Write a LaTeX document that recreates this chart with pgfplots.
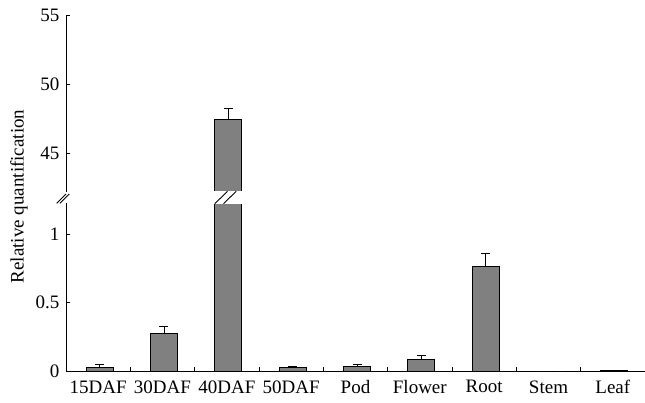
\documentclass[border=0pt]{standalone}
\usepackage{fontspec}
\setmainfont{Liberation Serif}
\usepackage{pgfplots}
\usepackage{pgfplotstable}
\pgfplotsset{compat=1.18}
\definecolor{barcol}{HTML}{808080}
\pgfplotstableread{
x y err
0 0.027 0.024
1 0.272 0.056
2 47.45 0.79
3 0.029 0.007
4 0.036 0.013
5 0.085 0.029
6 0.766 0.097
7 0 0
8 0.003 0
}\datatable
\begin{document}
\fontsize{19}{22}\selectfont
\begin{tikzpicture}
\useasboundingbox (0,0) rectangle (645pt,402pt);
\pgfplotsset{
  common/.style={
    scale only axis, width=579pt, anchor=south west,
    xmin=-0.5, xmax=8.5,
    ybar, bar width=27pt, bar shift=1.5pt,
    axis line style={line width=1pt},
    tick style={line width=1pt, black},
    tick align=inside,
    major tick length=4pt,
    /pgf/number format/assume math mode=true,
    ticklabel style={font=\fontsize{19}{22}\selectfont},
  }
}
\begin{axis}[common, at={(66pt,210pt)}, height=176.3pt, ymin=42.2, ymax=55,
  ytick={45,50,55}, hide x axis, axis y line*=left]
\addplot[fill=barcol, draw=black, line width=1pt,
  restrict y to domain=40:60,
  error bars/.cd, y dir=plus, y explicit,
  error bar style={line width=1pt, black},
  error mark options={rotate=90, mark size=4.5pt, line width=1pt, black}]
  table[x=x, y=y, y error=err] {\datatable};
\end{axis}
\begin{axis}[common, at={(66pt,31pt)}, height=168pt, ymin=0, ymax=1.229,
  ytick={0,0.5,1}, axis x line*=bottom, axis y line*=left,
  xtick={0.5,1.5,2.5,3.5,4.5,5.5,6.5,7.5}, xticklabels={},
  extra x ticks={0,1,2,3,4,5,6,7,8},
  extra x tick labels={15DAF,30DAF,40DAF,50DAF,Pod,Flower,Root,Stem,Leaf},
  extra x tick style={major tick length=0pt, xticklabel style={yshift=-3pt}}]
\addplot[fill=barcol, draw=black, line width=1pt,
  error bars/.cd, y dir=plus, y explicit,
  error bar style={line width=1pt, black},
  error mark options={rotate=90, mark size=4.5pt, line width=1pt, black}]
  table[x=x, y=y, y error=err] {\datatable};
\end{axis}
% axis break: clear the gap between the two parts of the 40DAF bar
\fill[white] (213.5pt,198.3pt) rectangle (243.5pt,210.7pt);
\draw[line width=0.9pt] (56.7pt,198.7pt) -- (66pt,208pt);
\draw[line width=0.9pt] (60pt,198.7pt) -- (69.3pt,208pt);
\draw[line width=0.9pt] (214.8pt,198.3pt) -- (227.5pt,210.7pt);
\draw[line width=0.9pt] (223.5pt,198.3pt) -- (236.2pt,210.7pt);
\node[rotate=90] at (19pt,205.5pt) {Relative quantification};
\end{tikzpicture}
\end{document}
